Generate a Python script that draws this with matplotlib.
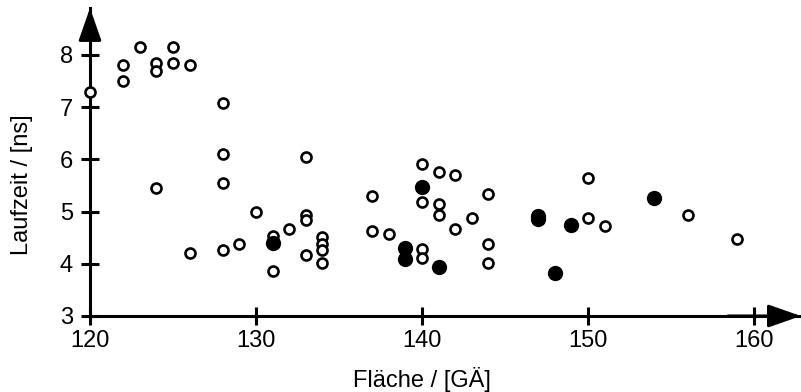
import matplotlib.pyplot as plt

plt.rcParams['font.family'] = ['Liberation Sans', 'DejaVu Sans']

# open circles
area_open = [120, 122, 122, 123, 124, 124, 125, 125, 126, 128, 128, 128, 124, 133,
             130, 126, 128, 129, 131, 131, 132, 133, 133, 133,
             134, 134, 134, 134, 137, 137, 138, 140, 140, 140, 140,
             141, 141, 141, 142, 142, 143, 144, 144, 144,
             150, 150, 151, 156, 159]
delay_open = [7.3, 7.8, 7.5, 8.15, 7.85, 7.7, 8.15, 7.85, 7.8, 7.08, 6.1, 5.55, 5.45, 6.05,
              5.0, 4.21, 4.26, 4.37, 4.53, 3.86, 4.67, 4.93, 4.83, 4.17,
              4.52, 4.37, 4.26, 4.01, 5.3, 4.63, 4.57, 5.91, 5.19, 4.28, 4.12,
              5.75, 5.15, 4.93, 5.7, 4.67, 4.88, 5.34, 4.37, 4.01,
              5.64, 4.87, 4.72, 4.93, 4.47]

# filled circles
area_filled = [131, 139, 139, 140, 141, 147, 147, 148, 149, 154]
delay_filled = [4.39, 4.3, 4.09, 5.47, 3.93, 4.85, 4.92, 3.83, 4.75, 5.26]

xticks = [120, 130, 140, 150, 160]
yticks = [3, 4, 5, 6, 7, 8]

fig = plt.figure(figsize=(8.01, 3.92), dpi=100)
ax = fig.add_axes([90 / 801, 76 / 392, 708.8 / 801, 308 / 392])

ax.plot(area_open, delay_open, 'o', ms=7.2, mfc='white', mec='black', mew=1.9,
        zorder=5, clip_on=False)
ax.plot(area_filled, delay_filled, 'o', ms=11, mfc='black', mec='black', mew=0,
        zorder=6, clip_on=False)

ax.set_xlim(120, 162.7)
ax.set_ylim(3, 8.9)
ax.set_xticks(xticks)
ax.set_yticks(yticks)

for s in ['top', 'right']:
    ax.spines[s].set_visible(False)
for s in ['left', 'bottom']:
    ax.spines[s].set_linewidth(2.2)

ax.tick_params(direction='inout', length=12.5, width=2.2, labelsize=17)
ax.tick_params(axis='y', pad=6)
ax.tick_params(axis='x', pad=4)

# arrow heads on the axes
arr = dict(arrowstyle='-|>,head_length=2.0,head_width=0.7', lw=2.2, color='black',
           mutation_scale=10, shrinkA=0, shrinkB=0)
ax.annotate('', xy=(1.003, 0), xytext=(0.9, 0), xycoords='axes fraction',
            arrowprops=arr, annotation_clip=False)
ax.annotate('', xy=(0, 1.0), xytext=(0, 0.9), xycoords='axes fraction',
            arrowprops=arr, annotation_clip=False)

ax.set_xlabel('Fläche / [GÄ]', fontsize=17)
ax.set_ylabel('Laufzeit / [ns]', fontsize=17)
ax.xaxis.set_label_coords(0.468, -0.165)
ax.yaxis.set_label_coords(-0.08, 0.425)

fig.savefig('out.png', dpi=100)
